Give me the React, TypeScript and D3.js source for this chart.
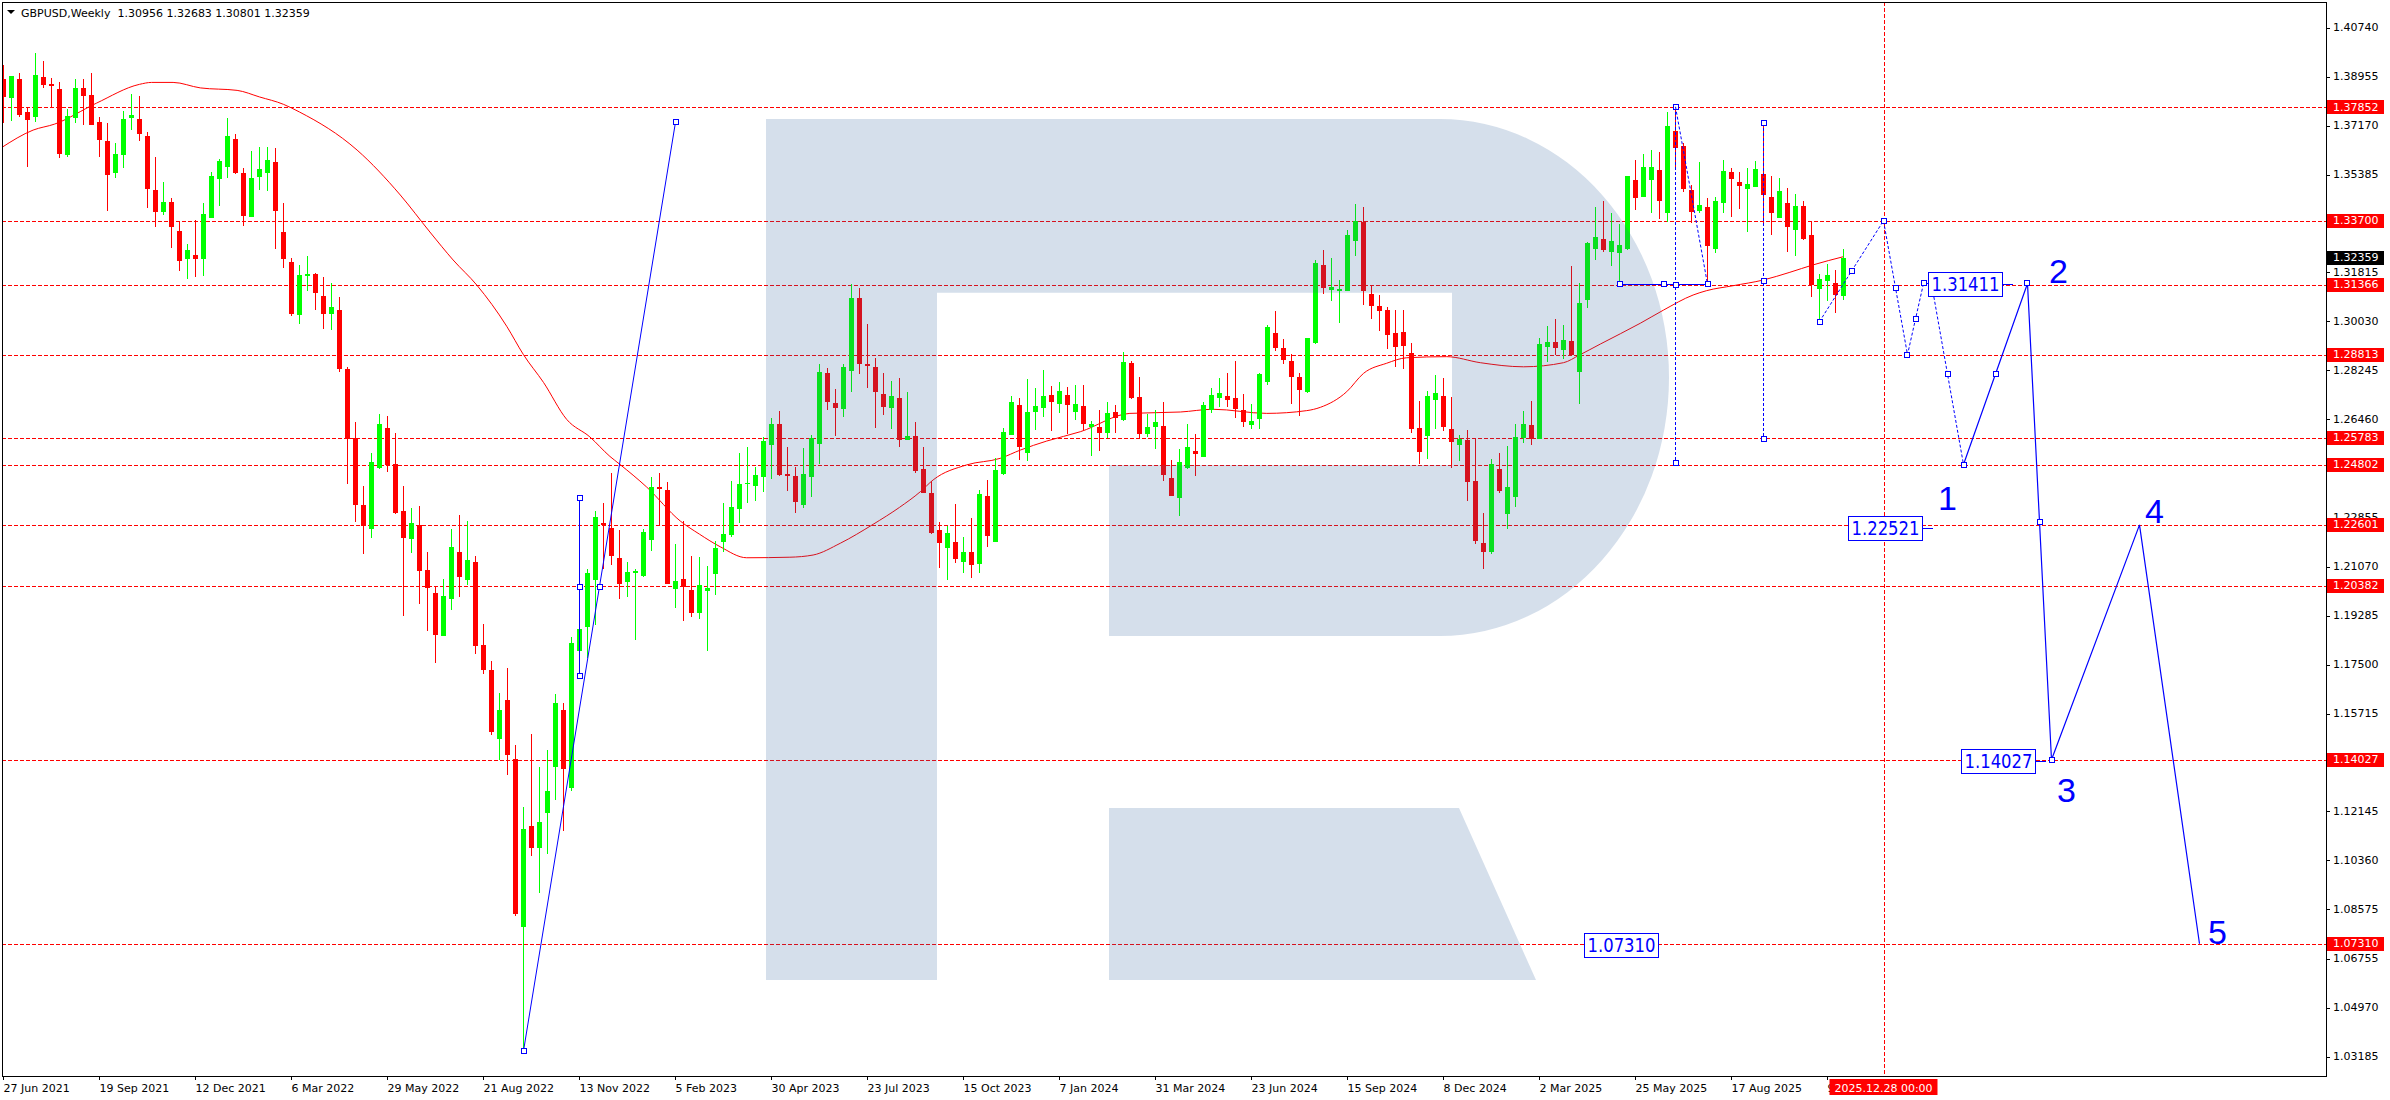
import React from "react";
import * as d3 from "d3";

// ---------------- DATA ----------------
const opens = [
  1.3886, 1.3819, 1.3887, 1.3767, 1.3749, 1.3895, 1.3870, 1.3850, 1.3610, 1.3746,
  1.3855, 1.3829, 1.3731, 1.3661, 1.3546, 1.3610, 1.3746, 1.3742, 1.3680, 1.3482,
  1.3402, 1.3439, 1.3333, 1.3231, 1.3245, 1.3231, 1.3381, 1.3523, 1.3566, 1.3669,
  1.3544, 1.3384, 1.3530, 1.3545, 1.3585, 1.3329, 1.3220, 1.3026, 1.3167, 1.3177,
  1.3097, 1.3028, 1.3044, 1.2829, 1.2577, 1.2333, 1.2244, 1.2467, 1.2612, 1.2482,
  1.2311, 1.2210, 1.2259, 1.2097, 1.2011, 1.1855, 1.1989, 1.2162, 1.2060, 1.2125,
  1.1821, 1.1732, 1.1477, 1.1622, 1.1406, 1.0791, 1.1160, 1.1082, 1.1207, 1.1378,
  1.1585, 1.1300, 1.1799, 1.1886, 1.2059, 1.2268, 1.2249, 1.2138, 1.2050, 1.2084,
  1.2072, 1.2205, 1.2398, 1.2387, 1.2026, 1.2063, 1.2022, 1.1937, 1.2017, 1.2082,
  1.2199, 1.2223, 1.2318, 1.2411, 1.2403, 1.2436, 1.2553, 1.2628, 1.2446, 1.2439,
  1.2333, 1.2436, 1.2556, 1.2814, 1.2705, 1.2684, 1.2823, 1.3088, 1.2846, 1.2835,
  1.2737, 1.2688, 1.2723, 1.2570, 1.2585, 1.2463, 1.2377, 1.2240, 1.2177, 1.2196,
  1.2126, 1.2160, 1.2119, 1.2366, 1.2199, 1.2445, 1.2589, 1.2698, 1.2524, 1.2673,
  1.2688, 1.2733, 1.2702, 1.2733, 1.2673, 1.2694, 1.2619, 1.2619, 1.2597, 1.2672,
  1.2643, 1.2851, 1.2727, 1.2593, 1.2619, 1.2621, 1.2431, 1.2359, 1.2469, 1.2530,
  1.2509, 1.2679, 1.2724, 1.2731, 1.2723, 1.2681, 1.2626, 1.2648, 1.2782, 1.2960,
  1.2906, 1.2858, 1.2800, 1.2746, 1.2925, 1.3209, 1.3119, 1.3114, 1.3115, 1.3296,
  1.3366, 1.3103, 1.3059, 1.3044, 1.2960, 1.2964, 1.2888, 1.2614, 1.2586, 1.2717,
  1.2731, 1.2609, 1.2553, 1.2570, 1.2420, 1.2195, 1.2162, 1.2464, 1.2301, 1.2360,
  1.2578, 1.2625, 1.2575, 1.2911, 1.2928, 1.2900, 1.2931, 1.2819, 1.3082, 1.3268,
  1.3302, 1.3257, 1.3251, 1.3268, 1.3519, 1.3458, 1.3519, 1.3555, 1.3397, 1.3698,
  1.3644, 1.3482, 1.3407, 1.3422, 1.3267, 1.3436, 1.3548, 1.3512, 1.3487, 1.3495,
  1.3541, 1.3457, 1.3381, 1.3435, 1.3338, 1.3424, 1.3318, 1.3122, 1.3151, 1.3144,
  1.30956,
];
const highs = [
  1.3939, 1.3900, 1.3909, 1.3787, 1.3981, 1.3953, 1.3890, 1.3875, 1.3778, 1.3887,
  1.3887, 1.3909, 1.3748, 1.3727, 1.3654, 1.3771, 1.3833, 1.3826, 1.3694, 1.3603,
  1.3512, 1.3453, 1.3368, 1.3285, 1.3373, 1.3435, 1.3548, 1.3596, 1.3745, 1.3687,
  1.3563, 1.3625, 1.3639, 1.3639, 1.3636, 1.3435, 1.3234, 1.3209, 1.3240, 1.3180,
  1.3165, 1.3143, 1.3091, 1.2836, 1.2635, 1.2402, 1.2523, 1.2665, 1.2659, 1.2594,
  1.2402, 1.2320, 1.2328, 1.2162, 1.2035, 1.2063, 1.2244, 1.2296, 1.2274, 1.2147,
  1.1899, 1.1762, 1.1648, 1.1737, 1.1458, 1.1231, 1.1495, 1.1378, 1.1439, 1.1644,
  1.1611, 1.1849, 1.2054, 1.2100, 1.2309, 1.2341, 1.2449, 1.2240, 1.2125, 1.2099,
  1.2246, 1.2436, 1.2449, 1.2415, 1.2190, 1.2274, 1.2147, 1.2141, 1.2110, 1.2203,
  1.2339, 1.2420, 1.2522, 1.2544, 1.2470, 1.2580, 1.2650, 1.2675, 1.2544, 1.2470,
  1.2540, 1.2588, 1.2846, 1.2833, 1.2756, 1.2846, 1.3139, 1.3125, 1.2993, 1.2868,
  1.2813, 1.2785, 1.2796, 1.2745, 1.2637, 1.2544, 1.2421, 1.2269, 1.2257, 1.2336,
  1.2216, 1.2285, 1.2387, 1.2424, 1.2503, 1.2612, 1.2731, 1.2723, 1.2793, 1.2760,
  1.2825, 1.2767, 1.2782, 1.2763, 1.2769, 1.2771, 1.2639, 1.2679, 1.2709, 1.2698,
  1.2890, 1.2858, 1.2800, 1.2665, 1.2679, 1.2709, 1.2497, 1.2537, 1.2628, 1.2592,
  1.2709, 1.2760, 1.2796, 1.2815, 1.2858, 1.2738, 1.2701, 1.2815, 1.2990, 1.3041,
  1.2939, 1.2884, 1.2815, 1.2943, 1.3227, 1.3263, 1.3234, 1.3154, 1.3336, 1.3431,
  1.3420, 1.3136, 1.3099, 1.3054, 1.3044, 1.3044, 1.2923, 1.2712, 1.2749, 1.2807,
  1.2796, 1.2727, 1.2588, 1.2606, 1.2577, 1.2304, 1.2501, 1.2521, 1.2548, 1.2628,
  1.2676, 1.2712, 1.2942, 1.2986, 1.3012, 1.2990, 1.3205, 1.3143, 1.3293, 1.3419,
  1.3442, 1.3397, 1.3358, 1.3535, 1.3592, 1.3614, 1.3628, 1.3620, 1.3768, 1.3786,
  1.3653, 1.3499, 1.3583, 1.3452, 1.3458, 1.3592, 1.3561, 1.3549, 1.3564, 1.3590,
  1.3729, 1.3533, 1.3526, 1.3488, 1.3468, 1.3442, 1.3368, 1.3175, 1.3211, 1.3190,
  1.32683,
];
const lows = [
  1.3726, 1.3734, 1.3750, 1.3568, 1.3732, 1.3856, 1.3787, 1.3598, 1.3604, 1.3726,
  1.3720, 1.3719, 1.3604, 1.3407, 1.3527, 1.3564, 1.3701, 1.3663, 1.3418, 1.3349,
  1.3391, 1.3272, 1.3188, 1.3156, 1.3166, 1.3170, 1.3381, 1.3425, 1.3527, 1.3541,
  1.3352, 1.3384, 1.3482, 1.3479, 1.3267, 1.3198, 1.3024, 1.2993, 1.3115, 1.3046,
  1.2975, 1.2970, 1.2817, 1.2408, 1.2272, 1.2153, 1.2212, 1.2464, 1.2454, 1.2300,
  1.1929, 1.2156, 1.1970, 1.1871, 1.1756, 1.1855, 1.1951, 1.1998, 1.2041, 1.1790,
  1.1715, 1.1492, 1.1402, 1.1346, 1.0834, 1.0341, 1.1052, 1.0918, 1.1058, 1.1257,
  1.1141, 1.1287, 1.1793, 1.1775, 1.1896, 1.2100, 1.2113, 1.1989, 1.1998, 1.1840,
  1.2069, 1.2166, 1.2259, 1.2043, 1.1957, 1.1911, 1.1924, 1.1918, 1.1799, 1.2004,
  1.2162, 1.2215, 1.2268, 1.2339, 1.2348, 1.2381, 1.2428, 1.2440, 1.2385, 1.2305,
  1.2323, 1.2363, 1.2482, 1.2679, 1.2586, 1.2654, 1.2746, 1.2812, 1.2759, 1.2615,
  1.2662, 1.2611, 1.2543, 1.2570, 1.2448, 1.2378, 1.2226, 1.2104, 1.2059, 1.2120,
  1.2086, 1.2065, 1.2086, 1.2181, 1.2199, 1.2442, 1.2588, 1.2497, 1.2493, 1.2606,
  1.2655, 1.2604, 1.2667, 1.2592, 1.2643, 1.2608, 1.2512, 1.2531, 1.2576, 1.2597,
  1.2641, 1.2721, 1.2572, 1.2582, 1.2536, 1.2422, 1.2366, 1.2294, 1.2463, 1.2438,
  1.2507, 1.2670, 1.2692, 1.2692, 1.2651, 1.2619, 1.2609, 1.2610, 1.2771, 1.2896,
  1.2846, 1.2701, 1.2659, 1.2743, 1.2922, 1.3103, 1.3078, 1.2998, 1.3115, 1.3242,
  1.3063, 1.3012, 1.2969, 1.2903, 1.2838, 1.2830, 1.2594, 1.2484, 1.2502, 1.2611,
  1.2604, 1.2469, 1.2495, 1.2348, 1.2189, 1.2098, 1.2155, 1.2378, 1.2246, 1.2327,
  1.2560, 1.2553, 1.2575, 1.2856, 1.2881, 1.2867, 1.2878, 1.2703, 1.3053, 1.3228,
  1.3257, 1.3206, 1.3139, 1.3263, 1.3409, 1.3456, 1.3397, 1.3377, 1.3367, 1.3555,
  1.3476, 1.3361, 1.3397, 1.3136, 1.3251, 1.3397, 1.3385, 1.3412, 1.3330, 1.3492,
  1.3363, 1.3318, 1.3381, 1.3257, 1.3243, 1.3300, 1.3093, 1.3002, 1.3078, 1.3035,
  1.30801,
];
const closes = [
  1.3823, 1.3898, 1.3756, 1.3738, 1.3902, 1.3866, 1.3863, 1.3615, 1.3752, 1.3855,
  1.3827, 1.3721, 1.3666, 1.3538, 1.3614, 1.3742, 1.3756, 1.3688, 1.3487, 1.3403,
  1.3439, 1.3349, 1.3224, 1.3263, 1.3231, 1.3395, 1.3533, 1.3588, 1.3680, 1.3544,
  1.3387, 1.3526, 1.3559, 1.3592, 1.3406, 1.3231, 1.3031, 1.3172, 1.3175, 1.3106,
  1.3028, 1.3056, 1.2830, 1.2572, 1.2331, 1.2255, 1.2490, 1.2629, 1.2477, 1.2305,
  1.2212, 1.2268, 1.2091, 1.2030, 1.1858, 1.2000, 1.2179, 1.2069, 1.2132, 1.1817,
  1.1732, 1.1505, 1.1585, 1.1421, 1.0840, 1.1151, 1.1082, 1.1175, 1.1290, 1.1611,
  1.1370, 1.1830, 1.1881, 1.2086, 1.2288, 1.2259, 1.2147, 1.2045, 1.2087, 1.2093,
  1.2234, 1.2398, 1.2391, 1.2045, 1.2054, 1.2035, 1.1937, 1.2041, 1.2030, 1.2175,
  1.2226, 1.2324, 1.2409, 1.2414, 1.2441, 1.2565, 1.2628, 1.2442, 1.2440, 1.2345,
  1.2446, 1.2578, 1.2818, 1.2710, 1.2688, 1.2836, 1.3088, 1.2849, 1.2841, 1.2746,
  1.2692, 1.2729, 1.2571, 1.2585, 1.2456, 1.2378, 1.2231, 1.2195, 1.2229, 1.2134,
  1.2160, 1.2115, 1.2373, 1.2221, 1.2460, 1.2598, 1.2709, 1.2546, 1.2671, 1.2694,
  1.2731, 1.2710, 1.2748, 1.2699, 1.2701, 1.2628, 1.2628, 1.2597, 1.2667, 1.2651,
  1.2855, 1.2723, 1.2593, 1.2617, 1.2636, 1.2443, 1.2367, 1.2490, 1.2543, 1.2519,
  1.2698, 1.2734, 1.2742, 1.2717, 1.2682, 1.2637, 1.2640, 1.2811, 1.2982, 1.2907,
  1.2863, 1.2801, 1.2754, 1.2942, 1.3216, 1.3126, 1.3127, 1.3121, 1.3318, 1.3369,
  1.3115, 1.3060, 1.3041, 1.2954, 1.2911, 1.2914, 1.2610, 1.2527, 1.2731, 1.2742,
  1.2619, 1.2564, 1.2574, 1.2418, 1.2203, 1.2162, 1.2482, 1.2385, 1.2398, 1.2581,
  1.2628, 1.2575, 1.2920, 1.2928, 1.2907, 1.2935, 1.2881, 1.3070, 1.3289, 1.3311,
  1.3263, 1.3296, 1.3283, 1.3533, 1.3452, 1.3565, 1.3565, 1.3443, 1.3716, 1.3637,
  1.3486, 1.3403, 1.3428, 1.3279, 1.3442, 1.3552, 1.3521, 1.3498, 1.3505, 1.3559,
  1.3464, 1.3400, 1.3479, 1.3349, 1.3424, 1.3305, 1.3136, 1.3157, 1.3172, 1.3099,
  1.32359,
];

// moving average (red line) read at sample bars
const maIdx = [
  -0.3, 3.7, 6.4, 11.6, 17, 18.5, 21.2, 24.6, 29.2, 32, 35, 37, 44.2, 49.6, 53.3,
  56.2, 59.2, 62.9, 65, 67.5, 70.4, 73.3, 75.8, 77, 80.4, 84.6, 87, 89.6, 92.9,
  98.3, 101.2, 104.6, 108.7, 112, 114.6, 116.2, 120.4, 124.6, 127.1, 130.4, 134.6,
  140.8, 147.1, 151.2, 157.9, 162.9, 164.6, 167.9, 170, 172.9, 175.4, 180.4, 184.6,
  190, 195, 197, 199.6, 204.6, 207.5, 211.2, 212.9, 216.2, 220, 223.3, 226.2, 230,
];
const maVal = [
  1.3636, 1.3701, 1.3723, 1.3799, 1.3868, 1.3875, 1.3875, 1.3855, 1.3846, 1.3822,
  1.3795, 1.3767, 1.3628, 1.3464, 1.3329, 1.3227, 1.3134, 1.2985, 1.2881, 1.2780,
  1.2645, 1.2581, 1.2510, 1.2482, 1.2398, 1.2274, 1.2226, 1.2180, 1.2140, 1.2142,
  1.2150, 1.2193, 1.2262, 1.2324, 1.2381, 1.2424, 1.2479, 1.2503, 1.2533, 1.2566,
  1.2600, 1.2667, 1.2672, 1.2682, 1.2667, 1.2677, 1.2689, 1.2746, 1.2813, 1.2850,
  1.2870, 1.2874, 1.2852, 1.2837, 1.2852, 1.2880, 1.2920, 1.2996, 1.3044, 1.3099,
  1.3115, 1.3133, 1.3154, 1.3182, 1.3209, 1.3239,
];

const levels = [1.37852, 1.337, 1.31366, 1.28813, 1.25783, 1.24802, 1.22601, 1.20382, 1.14027, 1.0731];
const priceTicks = [
  1.4074, 1.38955, 1.3717, 1.35385, 1.336, 1.31815, 1.3003, 1.28245, 1.2646, 1.2464,
  1.22855, 1.2107, 1.19285, 1.175, 1.15715, 1.1393, 1.12145, 1.1036, 1.08575, 1.06755,
  1.0497, 1.03185,
];
const dateLabels = [
  "27 Jun 2021", "19 Sep 2021", "12 Dec 2021", "6 Mar 2022", "29 May 2022", "21 Aug 2022",
  "13 Nov 2022", "5 Feb 2023", "30 Apr 2023", "23 Jul 2023", "15 Oct 2023", "7 Jan 2024",
  "31 Mar 2024", "23 Jun 2024", "15 Sep 2024", "8 Dec 2024", "2 Mar 2025", "25 May 2025",
  "17 Aug 2025", "9 Nov 2025",
];
const dateStep = 12;
const lastPrice = 1.32359;
const title = "GBPUSD,Weekly  1.30956 1.32683 1.30801 1.32359";
const vlineIdx = 235;
const vlineLabel = "2025.12.28 00:00";

// forecast waves
const waveIdx = [245, 253, 256, 267, 274.5];
const wavePrice = [1.24802, 1.31411, 1.14027, 1.22601, 1.0731];
const waveNames = ["1", "2", "3", "4", "5"];
// dashed projection path
const projIdx = [227, 235, 238, 240, 241, 245];
const projPrice = [1.3002, 1.337, 1.28813, 1.31411, 1.31411, 1.24802];
// price boxes
const boxText = ["1.31411", "1.22521", "1.14027", "1.07310"];
const boxRightIdx = [249.8, 239.8, 253.9, 206.8];
const boxPrice = [1.31411, 1.22521, 1.14027, 1.0731];
const boxTick = [true, true, true, false];
// 2022 structure
const trendIdx = [65, 84];
const trendPrice = [1.034, 1.373];
const vertIdx = 72;
const vertPrice = [1.2359, 1.1709];
// 2025 structure
const hLineIdx = [202, 213];
const hLinePrice = 1.3139;
const vDashIdx = [209, 220];
const vDashTop = [1.3786, 1.3728];
const vDashBot = [1.2485, 1.2572];

// ---------------- LAYOUT ----------------
const W = 2390;
const H = 1100;
const L = 2, T = 2, R = 2326, B = 1076;
const FONT = "'DejaVu Sans', Tahoma, sans-serif";
const BLUE = "#0000ff";
const RED = "#ff0000";
const GREEN = "#00ff00";

const LOGO_D =
  "M766,119 H1440 A229,258.5 0 0 1 1440,636 H1109 V465 H1452 V292.7 H937 V980 H766 Z " +
  "M1109,808 H1459 L1536,980 H1109 Z";

const x = d3.scaleLinear().domain([0, 290]).range([3.5, 3.5 + 8 * 290]);
const y = d3.scaleLinear().domain([1.03185, 1.4074]).range([1056.8, 27.9]);

function Marker({ cx, cy }: { cx: number; cy: number }) {
  return (
    <rect x={Math.round(cx) - 2.5} y={Math.round(cy) - 2.5} width={5} height={5}
      fill="#fff" stroke={BLUE} strokeWidth={1} />
  );
}

export default function App() {
  const maLine = d3.line<number>()
    .x((_, k) => x(maIdx[k]))
    .y((v) => y(v))
    .curve(d3.curveMonotoneX)(maVal) as string;

  const projPts = projIdx.map((v, k) => [x(v), y(projPrice[k])] as [number, number]);
  const wavePts = waveIdx.map((v, k) => [x(v), y(wavePrice[k])] as [number, number]);
  const pathOf = (pts: [number, number][]) => d3.line()(pts) as string;
  const mid = (a: [number, number], b: [number, number]) => ({ cx: (a[0] + b[0]) / 2, cy: (a[1] + b[1]) / 2 });

  const waveLabelOff = [[-16, 45], [31, 0], [15, 42], [15, -2], [18, 0]];

  const tP1: [number, number] = [x(trendIdx[0]), y(trendPrice[0])];
  const tP2: [number, number] = [x(trendIdx[1]), y(trendPrice[1])];
  const hP1: [number, number] = [x(hLineIdx[0]), y(hLinePrice)];
  const hP2: [number, number] = [x(hLineIdx[1]), y(hLinePrice)];
  const dTop: [number, number] = [x(vDashIdx[0]), y(vDashTop[0])];

  return (
    <div style={{ position: "absolute", left: 0, top: 0, width: W, height: H, background: "#fff" }}>
      <style>{`html,body{margin:0;padding:0;background:#fff;overflow:hidden;}`}</style>
      <svg width={W} height={H} viewBox={`0 0 ${W} ${H}`} style={{ display: "block" }}>
        <defs>
          <clipPath id="plot">
            <rect x={L} y={T} width={R - L} height={B - T} />
          </clipPath>
        </defs>
        <rect x={0} y={0} width={W} height={H} fill="#fff" />

        <g clipPath="url(#plot)">
          {/* horizontal level lines */}
          {levels.map((p) => (
            <line key={"lv" + p} x1={L} x2={R} y1={Math.round(y(p)) + 0.5} y2={Math.round(y(p)) + 0.5}
              stroke={RED} strokeWidth={1} strokeDasharray="4,2" shapeRendering="crispEdges" />
          ))}
          {/* vertical time line */}
          <line x1={Math.round(x(vlineIdx)) + 0.5} x2={Math.round(x(vlineIdx)) + 0.5} y1={T} y2={B}
            stroke={RED} strokeWidth={1} strokeDasharray="4,2" shapeRendering="crispEdges" />

          {/* moving average */}
          <path d={maLine} fill="none" stroke={RED} strokeWidth={1} />

          {/* candles */}
          {opens.map((o, i) => {
            const c = closes[i];
            const up = c >= o;
            const col = up ? GREEN : RED;
            const cx = Math.floor(x(i)) + 0.5;
            const yTop = y(Math.max(o, c));
            const yBot = y(Math.min(o, c));
            const bh = Math.max(1, yBot - yTop);
            return (
              <g key={"c" + i} shapeRendering="crispEdges">
                <line x1={cx} x2={cx} y1={y(highs[i])} y2={y(lows[i])} stroke={col} strokeWidth={1} />
                <rect x={cx - 2.5} y={yTop} width={5} height={bh} fill={col} />
              </g>
            );
          })}

          {/* watermark logo overlay */}
          <path d={LOGO_D} fill="rgb(45,95,155)" fillOpacity={0.2} fillRule="evenodd" />

          {/* 2022 structure */}
          <line x1={tP1[0]} y1={tP1[1]} x2={tP2[0]} y2={tP2[1]} stroke={BLUE} strokeWidth={1} />
          <line x1={Math.floor(x(vertIdx)) + 0.5} x2={Math.floor(x(vertIdx)) + 0.5}
            y1={y(vertPrice[0])} y2={y(vertPrice[1])} stroke={BLUE} strokeWidth={1} shapeRendering="crispEdges" />
          <Marker cx={tP1[0]} cy={tP1[1]} />
          <Marker cx={tP2[0]} cy={tP2[1]} />
          <Marker {...mid(tP1, tP2)} />
          <Marker cx={x(vertIdx)} cy={y(vertPrice[0])} />
          <Marker cx={x(vertIdx)} cy={y(vertPrice[1])} />
          <Marker cx={x(vertIdx)} cy={(y(vertPrice[0]) + y(vertPrice[1])) / 2} />

          {/* 2025 structure */}
          <line x1={hP1[0]} x2={hP2[0]} y1={Math.round(hP1[1]) + 0.5} y2={Math.round(hP1[1]) + 0.5}
            stroke={BLUE} strokeWidth={1.2} shapeRendering="crispEdges" />
          {vDashIdx.map((v, k) => (
            <g key={"vd" + k}>
              <line x1={Math.floor(x(v)) + 0.5} x2={Math.floor(x(v)) + 0.5} y1={y(vDashTop[k])} y2={y(vDashBot[k])}
                stroke={BLUE} strokeWidth={1} strokeDasharray="3,2" shapeRendering="crispEdges" />
              <Marker cx={x(v)} cy={y(vDashTop[k])} />
              <Marker cx={x(v)} cy={y(vDashBot[k])} />
              <Marker cx={x(v)} cy={(y(vDashTop[k]) + y(vDashBot[k])) / 2} />
            </g>
          ))}
          <line x1={dTop[0]} y1={dTop[1]} x2={hP2[0]} y2={hP2[1]} stroke={BLUE} strokeWidth={1} strokeDasharray="3,2" />
          <Marker cx={hP1[0]} cy={hP1[1]} />
          <Marker cx={hP2[0]} cy={hP2[1]} />
          <Marker {...mid(hP1, hP2)} />

          {/* dashed projection */}
          <path d={pathOf(projPts)} fill="none" stroke={BLUE} strokeWidth={1} strokeDasharray="3,2" />
          {projPts.map((p, k) => (k === 4 ? null : <Marker key={"pm" + k} cx={p[0]} cy={p[1]} />))}
          {projPts.slice(0, -1).map((p, k) =>
            k === 3 ? null : <Marker key={"pmm" + k} {...mid(p, projPts[k + 1])} />
          )}

          {/* solid wave path */}
          <path d={pathOf(wavePts)} fill="none" stroke={BLUE} strokeWidth={1.2} />
          <Marker cx={wavePts[0][0]} cy={wavePts[0][1]} />
          <Marker {...mid(wavePts[0], wavePts[1])} />
          <Marker cx={wavePts[1][0]} cy={wavePts[1][1]} />
          <Marker {...mid(wavePts[1], wavePts[2])} />
          <Marker cx={wavePts[2][0]} cy={wavePts[2][1]} />
          {wavePts.map((p, k) => (
            <text key={"wn" + k} x={p[0] + waveLabelOff[k][0]} y={p[1] + waveLabelOff[k][1]}
              textAnchor="middle" fontFamily="'Liberation Sans', Arial, sans-serif" fontSize={34} fill={BLUE}>
              {waveNames[k]}
            </text>
          ))}

          {/* price boxes */}
          {boxText.map((t, k) => {
            const xr = Math.round(x(boxRightIdx[k])) + 0.5;
            const cy = Math.round(y(boxPrice[k])) + 1;
            return (
              <g key={"bx" + k}>
                {boxTick[k] && (
                  <line x1={xr} x2={xr + 10} y1={cy + 0.5} y2={cy + 0.5} stroke={BLUE} strokeWidth={1} shapeRendering="crispEdges" />
                )}
                <rect x={xr - 74} y={cy - 12 + 0.5} width={74} height={24} fill="#fff" stroke={BLUE} strokeWidth={1}
                  shapeRendering="crispEdges" />
                <text x={xr - 37} y={cy + 7} textAnchor="middle" fontFamily={FONT} fontSize={20}
                  textLength={68} lengthAdjust="spacingAndGlyphs" fill={BLUE}>
                  {t}
                </text>
              </g>
            );
          })}
        </g>

        {/* frame */}
        <rect x={L + 0.5} y={T + 0.5} width={R - L} height={B - T} fill="none" stroke="#000" strokeWidth={1}
          shapeRendering="crispEdges" />

        {/* title */}
        <polygon points="7,10 15,10 11,14" fill="#000" />
        <text x={21} y={17} fontFamily={FONT} fontSize={11} fill="#000" style={{ whiteSpace: "pre" }}>
          {title}
        </text>

        {/* right axis */}
        {priceTicks.map((p) => (
          <g key={"pt" + p}>
            <line x1={R} x2={R + 4} y1={Math.round(y(p)) + 0.5} y2={Math.round(y(p)) + 0.5} stroke="#000"
              shapeRendering="crispEdges" />
            <text x={R + 7} y={y(p)} dominantBaseline="central" fontFamily={FONT} fontSize={11} fill="#000">
              {p.toFixed(5)}
            </text>
          </g>
        ))}
        {levels.map((p) => (
          <g key={"lb" + p}>
            <rect x={R + 1} y={Math.round(y(p)) - 7} width={57} height={14} fill={RED} />
            <text x={R + 7} y={y(p)} dominantBaseline="central" fontFamily={FONT} fontSize={11} fill="#fff">
              {p.toFixed(5)}
            </text>
          </g>
        ))}
        <g>
          <rect x={R + 1} y={Math.round(y(lastPrice)) - 7} width={57} height={14} fill="#000" />
          <text x={R + 7} y={y(lastPrice)} dominantBaseline="central" fontFamily={FONT} fontSize={11} fill="#fff">
            {lastPrice.toFixed(5)}
          </text>
        </g>

        {/* bottom axis */}
        {dateLabels.map((d, k) => {
          const tx = Math.floor(x(k * dateStep)) + 0.5;
          return (
            <g key={"dl" + k}>
              <line x1={tx} x2={tx} y1={B} y2={B + 4} stroke="#000" shapeRendering="crispEdges" />
              <text x={tx} y={1092} fontFamily={FONT} fontSize={11} fill="#000">
                {d}
              </text>
            </g>
          );
        })}
        <rect x={x(vlineIdx) - 54} y={1079} width={108} height={16} fill={RED} />
        <text x={x(vlineIdx)} y={1091.5} textAnchor="middle" fontFamily={FONT} fontSize={11} fill="#fff">
          {vlineLabel}
        </text>
      </svg>
    </div>
  );
}
